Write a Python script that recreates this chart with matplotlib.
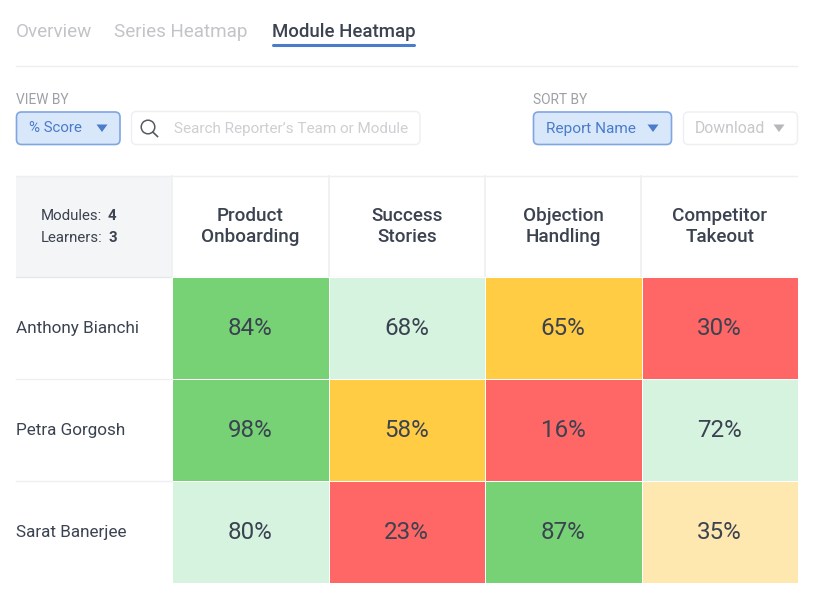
import numpy as np
import matplotlib
matplotlib.use("Agg")
import matplotlib.pyplot as plt
from matplotlib.colors import ListedColormap, BoundaryNorm
from matplotlib.patches import FancyBboxPatch, Rectangle, Polygon, Circle

plt.rcParams['font.family'] = ['Roboto', 'DejaVu Sans']

modules = ["Product\nOnboarding", "Success\nStories", "Objection\nHandling", "Competitor\nTakeout"]
learners = ["Anthony Bianchi", "Petra Gorgosh", "Sarat Banerjee"]
scores = [[84, 68, 65, 30],
          [98, 58, 16, 72],
          [80, 23, 87, 35]]
tabs = ["Overview", "Series Heatmap", "Module Heatmap"]
band_edges = [0, 32, 50, 66, 82, 100]
band_colors = ["#FF6666", "#FFE8B0", "#FFCC44", "#D6F3DF", "#76D275"]

W, H = 817, 602
DARK = "#3B4250"
BLUE = "#4A7CCB"
fig = plt.figure(figsize=(W / 100, H / 100), dpi=100, facecolor="white")

# page chrome in pixel space
bg = fig.add_axes([0, 0, 1, 1])
bg.set_xlim(0, W); bg.set_ylim(H, 0); bg.axis("off")

def box(x0, y0, x1, y1, fc, ec, lw=1.0, r=5):
    bg.add_patch(FancyBboxPatch((x0 + r, y0 + r), x1 - x0 - 2 * r, y1 - y0 - 2 * r,
                                boxstyle=f"round,pad={r},rounding_size={r}", fc=fc, ec=ec, lw=lw))

def tri(cx, cy, color):
    bg.add_patch(Polygon([(cx - 5.5, cy - 3.5), (cx + 5.5, cy - 3.5), (cx, cy + 4)], closed=True, fc=color, ec="none"))

bg.text(16, 32, tabs[0], fontsize=13.6, color="#C2C4C8", va="center")
bg.text(114, 32, tabs[1], fontsize=13.6, color="#C2C4C8", va="center")
bg.text(272, 32, tabs[2], fontsize=13.4, color=DARK, va="center", fontweight="medium")
bg.plot([273, 414], [44.5, 44.5], color=BLUE, lw=2.2, solid_capstyle="round")
bg.plot([16, 797.5], [66, 66], color="#EDEEF0", lw=1)

bg.text(16, 99.5, "VIEW BY", fontsize=9.9, color="#9C9FA5", va="center")
bg.text(533, 99.5, "SORT BY", fontsize=9.9, color="#9C9FA5", va="center")

box(16.5, 112, 120, 144.5, "#D9E7FA", "#7FA6E0", 1.2)
bg.text(29, 128.5, "% Score", fontsize=10.9, color=BLUE, va="center")
tri(102, 128, BLUE)

box(131.5, 111.5, 420, 144.5, "white", "#EEEFF1", 1)
bg.add_patch(Circle((148, 127), 6.8, fc="none", ec="#555A63", lw=1.1))
bg.plot([152.8, 157.5], [132, 136.5], color="#555A63", lw=1.2)
bg.text(174, 128.5, "Search Reporter\u2019s Team or Module", fontsize=11, color="#CDCFD2", va="center")

box(533.5, 112, 671.5, 144.5, "#D9E7FA", "#7FA6E0", 1.2)
bg.text(546, 128.5, "Report Name", fontsize=11.1, color=BLUE, va="center")
tri(653, 128, BLUE)

box(683.5, 112, 797.5, 144.5, "white", "#EEEFF1", 1)
bg.text(695, 128.5, "Download", fontsize=11.3, color="#C6C8CB", va="center")
tri(779, 128, "#B5B7BA")

# header block
bg.add_patch(Rectangle((16, 176), 156, 101, fc="#F4F5F7", ec="none"))
bg.plot([16, 797.5], [176, 176], color="#EEEFF1", lw=1)
bg.plot([16, 797.5], [277, 277], color="#E6E7E9", lw=1)
bg.text(41, 215.5, "Modules:", fontsize=10.8, color=DARK, va="center")
bg.text(108, 215.5, "4", fontsize=10.8, color=DARK, va="center", fontweight="bold")
bg.text(41, 238.5, "Learners:", fontsize=10.8, color=DARK, va="center")
bg.text(109, 238.5, "3", fontsize=10.8, color=DARK, va="center", fontweight="bold")
for xe in (172.5, 329, 485.5, 641.5):
    bg.plot([xe, xe], [176, 277], color="#EEEFF1", lw=1.2)

# heatmap
x0, x1, y0, y1 = 172, 798, 277, 583
ax = fig.add_axes([x0 / W, 1 - y1 / H, (x1 - x0) / W, (y1 - y0) / H])
data = np.array(scores)
cmap = ListedColormap(band_colors)
norm = BoundaryNorm(band_edges, cmap.N)
ax.pcolormesh(data, cmap=cmap, norm=norm, edgecolors="white", linewidth=0.5)
ax.set_xlim(0, len(modules))
ax.set_ylim(len(learners), 0)
ax.axis("off")
for r, row in enumerate(scores):
    for c, v in enumerate(row):
        ax.text(c + 0.5, r + 0.507, f"{v}%", ha="center", va="center", fontsize=17.4, color=DARK)
    ax.text(-0.995, r + 0.505, learners[r], ha="left", va="center", fontsize=12.3, color=DARK, clip_on=False)
for c, m in enumerate(modules):
    ax.text(c + 0.5, -0.495, m, ha="center", va="center", fontsize=13.6, color=DARK, fontweight="medium",
            linespacing=1.18, clip_on=False)
for ye in (1, 2):
    ax.plot([-1.0, 0], [ye, ye], color="#EEEFF1", lw=1, clip_on=False)

fig.savefig("out.png", dpi=100, facecolor="white")
